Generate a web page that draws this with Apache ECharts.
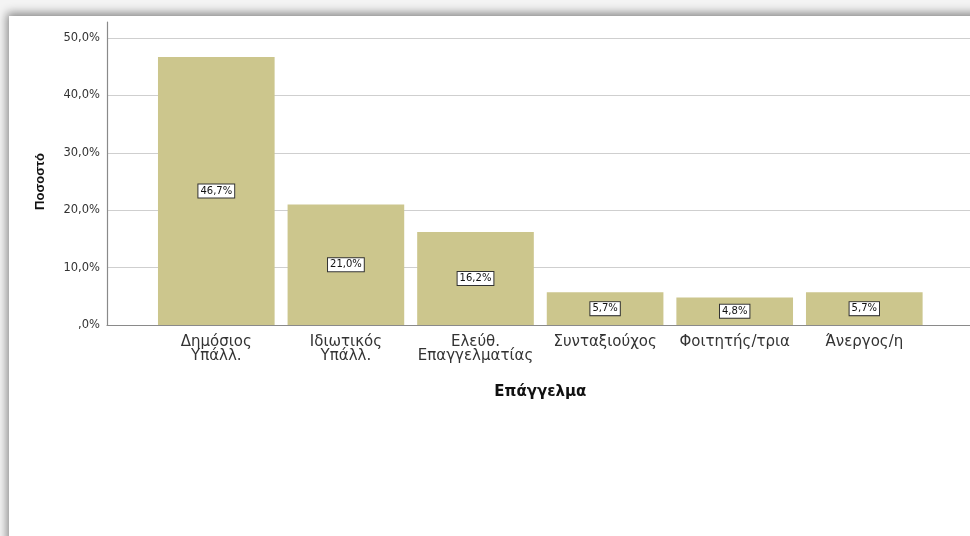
<!DOCTYPE html>
<html><head><meta charset="utf-8">
<script src="https://cdn.jsdelivr.net/npm/echarts@6/dist/echarts.min.js"></script>
<style>
html,body{margin:0;padding:0;width:970px;height:536px;overflow:hidden;background:#f4f4f4;}
#panel{position:absolute;left:9px;top:16px;width:980px;height:540px;background:#fff;box-shadow:-2px -3px 9px rgba(0,0,0,0.45);}
#c{position:absolute;left:0;top:0;width:970px;height:536px;}
</style></head>
<body><div id="panel"></div><div id="c"></div>
<script>
const categories = ['Δημόσιος\nΥπάλλ.', 'Ιδιωτικός\nΥπάλλ.', 'Ελεύθ.\nΕπαγγελματίας', 'Συνταξιούχος', 'Φοιτητής/τρια', 'Άνεργος/η'];
const percentages = [46.7, 21.0, 16.2, 5.7, 4.8, 5.7];
const yTicks = [0, 10, 20, 30, 40, 50];
const yAxisTitle = 'Ποσοστό';
const xAxisTitle = 'Επάγγελμα';

const fmtPct = v => { let s = v.toFixed(1).replace('.', ','); if (s.startsWith('0,')) s = s.slice(1); return s + '%'; };
const ARIAL = 'Liberation Sans, Arial, sans-serif';
const WIDE = 'DejaVu Sans, sans-serif';
const yMin = yTicks[0], yMax = yTicks[yTicks.length - 1];
const chart = echarts.init(document.getElementById('c'), null, {renderer: 'canvas'});
chart.setOption({
  animation: false,
  textStyle: {fontFamily: ARIAL},
  grid: [
    {left: 107, right: 0, top: 38, bottom: 211, containLabel: false},
    {left: 151.5, width: 777.6, top: 38, bottom: 211, containLabel: false},
    {left: 107, width: 1, top: 22, bottom: 211, containLabel: false}
  ],
  xAxis: [
    {gridIndex: 0, type: 'category', data: categories.map(() => ''), axisLabel: {show: false}, axisTick: {show: false},
     axisLine: {show: true, lineStyle: {color: '#8a8a8a', width: 1.2}}},
    {gridIndex: 1, type: 'category', data: categories, axisTick: {show: false}, axisLine: {show: false},
     axisLabel: {fontSize: 15, color: '#333', lineHeight: 14, margin: 10, fontFamily: WIDE, interval: 0},
     name: xAxisTitle, nameLocation: 'middle', nameGap: 60,
     nameTextStyle: {fontSize: 15, fontWeight: 'bold', color: '#111', fontFamily: WIDE}},
    {gridIndex: 2, type: 'category', data: [''], show: false}
  ],
  yAxis: [
    {gridIndex: 0, type: 'value', min: yMin, max: yMax, interval: 10,
     axisLine: {show: false}, axisTick: {show: false},
     axisLabel: {formatter: fmtPct, fontSize: 11.5, color: '#333', margin: 7, fontFamily: WIDE},
     splitLine: {show: true, lineStyle: {color: '#cfcfcf', width: 1.2}},
     name: yAxisTitle, nameLocation: 'middle', nameGap: 60, nameRotate: 90,
     nameTextStyle: {fontSize: 13, fontWeight: 'bold', color: '#111', fontFamily: ARIAL}},
    {gridIndex: 1, type: 'value', min: yMin, max: yMax, show: false, splitLine: {show: false}},
    {gridIndex: 2, type: 'value', min: 0, max: 1, axisLine: {show: true, lineStyle: {color: '#8a8a8a', width: 1.2}},
     axisLabel: {show: false}, axisTick: {show: false}, splitLine: {show: false}}
  ],
  series: [{
    type: 'bar', xAxisIndex: 1, yAxisIndex: 1, data: percentages,
    barCategoryGap: '10%',
    itemStyle: {color: '#ccc68d'},
    label: {show: true, position: 'inside', formatter: p => fmtPct(p.value), fontSize: 10, color: '#111',
      backgroundColor: '#fff', borderColor: '#333', borderWidth: 1, padding: [2, 2, 1, 2], fontFamily: WIDE}
  }]
});
</script></body></html>
